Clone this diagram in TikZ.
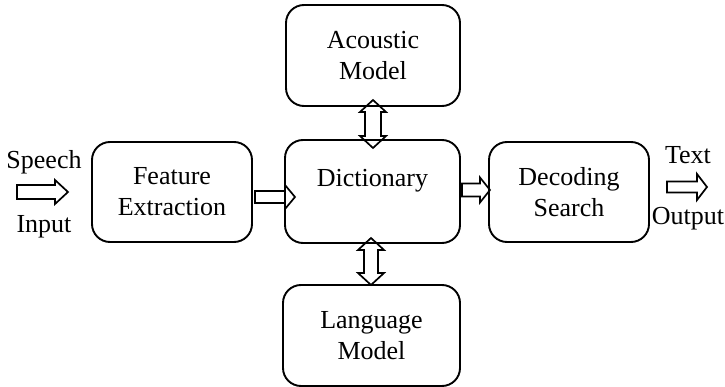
\documentclass[tikz,border=0pt]{standalone}
\usepackage{fontspec}
\setmainfont{Liberation Serif}
\newcommand\harr[6]{% x1 x2 yc shafthalf headhalf headlen
 \draw[blk] ({#1},{#3-#4}) -- ({#2-#6},{#3-#4}) -- ({#2-#6},{#3-#5}) -- ({#2},{#3}) -- ({#2-#6},{#3+#5}) -- ({#2-#6},{#3+#4}) -- ({#1},{#3+#4}) -- cycle;}
\newcommand\varr[6]{% xc y1 y2 shafthalf headhalf headlen
 \draw[blk] ({#1},{#2}) -- ({#1+#5},{#2+#6}) -- ({#1+#4},{#2+#6}) -- ({#1+#4},{#3-#6}) -- ({#1+#5},{#3-#6}) -- ({#1},{#3}) -- ({#1-#5},{#3-#6}) -- ({#1-#4},{#3-#6}) -- ({#1-#4},{#2+#6}) -- ({#1-#5},{#2+#6}) -- cycle;}
\begin{document}
\begin{tikzpicture}[x=1pt,y=-1pt,
  box/.style={draw, line width=1.9pt, rounded corners=18pt, inner sep=0pt, align=center, font=\fontsize{26}{31}\selectfont},
  lbl/.style={inner sep=0pt, font=\fontsize{26}{31}\selectfont},
  blk/.style={draw, line width=1.7pt, line join=miter}]
\useasboundingbox (0,0) rectangle (725,387);
\node[box, minimum width=160pt, minimum height=100pt] (fe) at (172,192) {Feature\\Extraction};
\node[box, minimum width=175pt, minimum height=103pt] (dict) at (372.5,191.5) {};
\node[lbl, anchor=base] (dictt) at (372.5,187) {Dictionary};
\node[box, minimum width=174pt, minimum height=101pt] (ac) at (373,55.5) {Acoustic\\Model};
\node[box, minimum width=177pt, minimum height=101pt] (lm) at (371.5,335.5) {Language\\Model};
\node[box, minimum width=160pt, minimum height=100pt] (ds) at (569,192) {Decoding\\Search};
\node[lbl, anchor=base] (sp) at (44,169) {Speech};
\node[lbl, anchor=base] (in) at (44,233) {Input};
\node[lbl, anchor=base] (tx) at (688,164) {Text};
\node[lbl, anchor=base] (out) at (688,225) {Output};
\harr{17}{68}{192}{7}{12}{13}
\harr{255}{295}{197}{6}{12}{10}
\harr{462}{490}{190}{6.5}{12.5}{10}
\harr{667}{707}{187}{5.5}{13}{10}
\varr{373}{100}{148}{8}{13}{12}
\varr{371}{238}{285}{7}{13}{12}
\end{tikzpicture}
\end{document}
